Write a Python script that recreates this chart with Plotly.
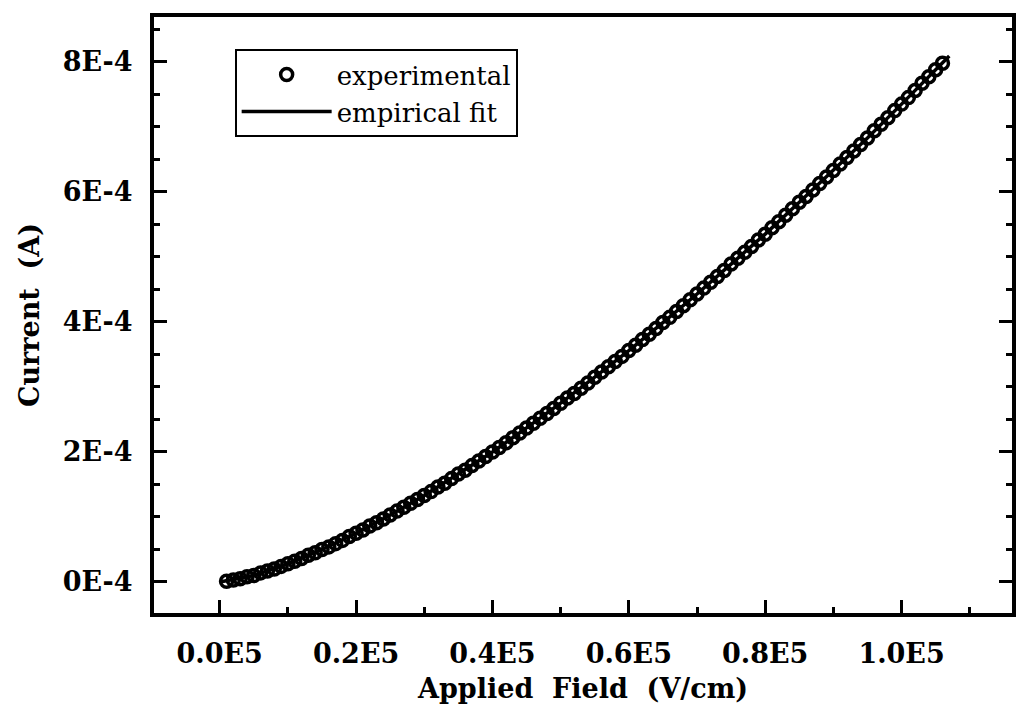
import plotly.graph_objects as go

# Experimental data: applied field (units of 1E5 V/cm) and current (units of 1E-4 A)
exp_field = [0.01, 0.02, 0.03, 0.04, 0.05, 0.06, 0.07, 0.08, 0.09, 0.10,
             0.11, 0.12, 0.13, 0.14, 0.15, 0.16, 0.17, 0.18, 0.19, 0.20,
             0.21, 0.22, 0.23, 0.24, 0.25, 0.26, 0.27, 0.28, 0.29, 0.30,
             0.31, 0.32, 0.33, 0.34, 0.35, 0.36, 0.37, 0.38, 0.39, 0.40,
             0.41, 0.42, 0.43, 0.44, 0.45, 0.46, 0.47, 0.48, 0.49, 0.50,
             0.51, 0.52, 0.53, 0.54, 0.55, 0.56, 0.57, 0.58, 0.59, 0.60,
             0.61, 0.62, 0.63, 0.64, 0.65, 0.66, 0.67, 0.68, 0.69, 0.70,
             0.71, 0.72, 0.73, 0.74, 0.75, 0.76, 0.77, 0.78, 0.79, 0.80,
             0.81, 0.82, 0.83, 0.84, 0.85, 0.86, 0.87, 0.88, 0.89, 0.90,
             0.91, 0.92, 0.93, 0.94, 0.95, 0.96, 0.97, 0.98, 0.99, 1.00,
             1.01, 1.02, 1.03, 1.04, 1.05, 1.06]
exp_current = [0.01, 0.03, 0.05, 0.08, 0.10, 0.14, 0.17, 0.20, 0.24, 0.28,
               0.32, 0.36, 0.41, 0.45, 0.50, 0.54, 0.59, 0.64, 0.70, 0.75,
               0.80, 0.86, 0.91, 0.97, 1.03, 1.09, 1.15, 1.21, 1.27, 1.33,
               1.39, 1.46, 1.52, 1.59, 1.66, 1.72, 1.79, 1.86, 1.93, 2.00,
               2.07, 2.14, 2.22, 2.29, 2.37, 2.44, 2.52, 2.59, 2.67, 2.75,
               2.83, 2.90, 2.98, 3.06, 3.15, 3.23, 3.31, 3.39, 3.47, 3.56,
               3.64, 3.73, 3.81, 3.90, 3.99, 4.07, 4.16, 4.25, 4.34, 4.43,
               4.52, 4.61, 4.70, 4.79, 4.89, 4.98, 5.07, 5.16, 5.26, 5.35,
               5.45, 5.54, 5.64, 5.74, 5.84, 5.93, 6.03, 6.13, 6.23, 6.33,
               6.43, 6.53, 6.63, 6.73, 6.83, 6.94, 7.04, 7.14, 7.25, 7.35,
               7.45, 7.56, 7.67, 7.77, 7.88, 7.98]

# Empirical fit curve
fit_field = [0.00, 0.05, 0.10, 0.15, 0.20, 0.25, 0.30, 0.35, 0.40, 0.45,
             0.50, 0.55, 0.60, 0.65, 0.70, 0.75, 0.80, 0.85, 0.90, 0.95,
             1.00, 1.05, 1.07]
fit_current = [0.00, 0.10, 0.28, 0.50, 0.75, 1.03, 1.33, 1.66, 2.00, 2.37,
               2.75, 3.15, 3.56, 3.99, 4.43, 4.89, 5.35, 5.84, 6.33, 6.83,
               7.35, 7.88, 8.09]

x_tickvals = [0.0, 0.2, 0.4, 0.6, 0.8, 1.0]
x_ticktext = ["0.0E5", "0.2E5", "0.4E5", "0.6E5", "0.8E5", "1.0E5"]
y_tickvals = [0, 2, 4, 6, 8]
y_ticktext = ["0E-4", "2E-4", "4E-4", "6E-4", "8E-4"]

X_SCALE = 1e5
Y_SCALE = 1e-4

fig = go.Figure()
fig.add_trace(go.Scatter(
    x=[v * X_SCALE for v in exp_field],
    y=[v * Y_SCALE for v in exp_current],
    mode="markers",
    name="experimental",
    marker=dict(symbol="circle-open", size=12, color="black",
                line=dict(width=3.5, color="black")),
))
fig.add_trace(go.Scatter(
    x=[v * X_SCALE for v in fit_field],
    y=[v * Y_SCALE for v in fit_current],
    mode="lines",
    name="empirical fit",
    line=dict(color="black", width=3.5),
))

tick_font = dict(family="DejaVu Serif", size=27, color="black", weight="bold")
title_font = dict(family="DejaVu Serif", size=27, color="black", weight="bold")

fig.update_layout(
    width=1020, height=706,
    margin=dict(l=154, r=4, t=17, b=93),
    paper_bgcolor="white", plot_bgcolor="white",
    showlegend=True,
    legend=dict(
        x=0.094, y=0.946, xanchor="left", yanchor="top",
        bordercolor="black", borderwidth=2,
        font=dict(family="DejaVu Serif", size=26, color="black"),
        itemwidth=90, bgcolor="white",
    ),
    xaxis=dict(
        range=[-0.0964 * X_SCALE, 1.162 * X_SCALE],
        tickmode="array",
        tickvals=[v * X_SCALE for v in x_tickvals],
        ticktext=x_ticktext,
        ticks="inside", ticklen=13, tickwidth=3, tickcolor="black",
        minor=dict(tickmode="linear", tick0=0, dtick=0.1 * X_SCALE,
                   ticks="inside", ticklen=6, tickwidth=3, tickcolor="black"),
        showline=True, linewidth=4, linecolor="black", mirror=True,
        showgrid=False, zeroline=False,
        tickfont=tick_font, ticklabelstandoff=14,
        title=dict(text="Applied\u00a0 Field\u00a0 (V/cm)", font=title_font, standoff=12),
    ),
    yaxis=dict(
        range=[-0.477 * Y_SCALE, 8.69 * Y_SCALE],
        tickmode="array",
        tickvals=[v * Y_SCALE for v in y_tickvals],
        ticktext=y_ticktext,
        ticks="inside", ticklen=13, tickwidth=3, tickcolor="black",
        minor=dict(tickmode="linear", tick0=0, dtick=0.5 * Y_SCALE,
                   ticks="inside", ticklen=6, tickwidth=3, tickcolor="black"),
        showline=True, linewidth=4, linecolor="black", mirror="ticks",
        showgrid=False, zeroline=False,
        tickfont=tick_font, ticklabelstandoff=12,
        title=dict(text="Current\u00a0 (A)", font=title_font, standoff=16),
    ),
)

fig.write_html("out.html")
